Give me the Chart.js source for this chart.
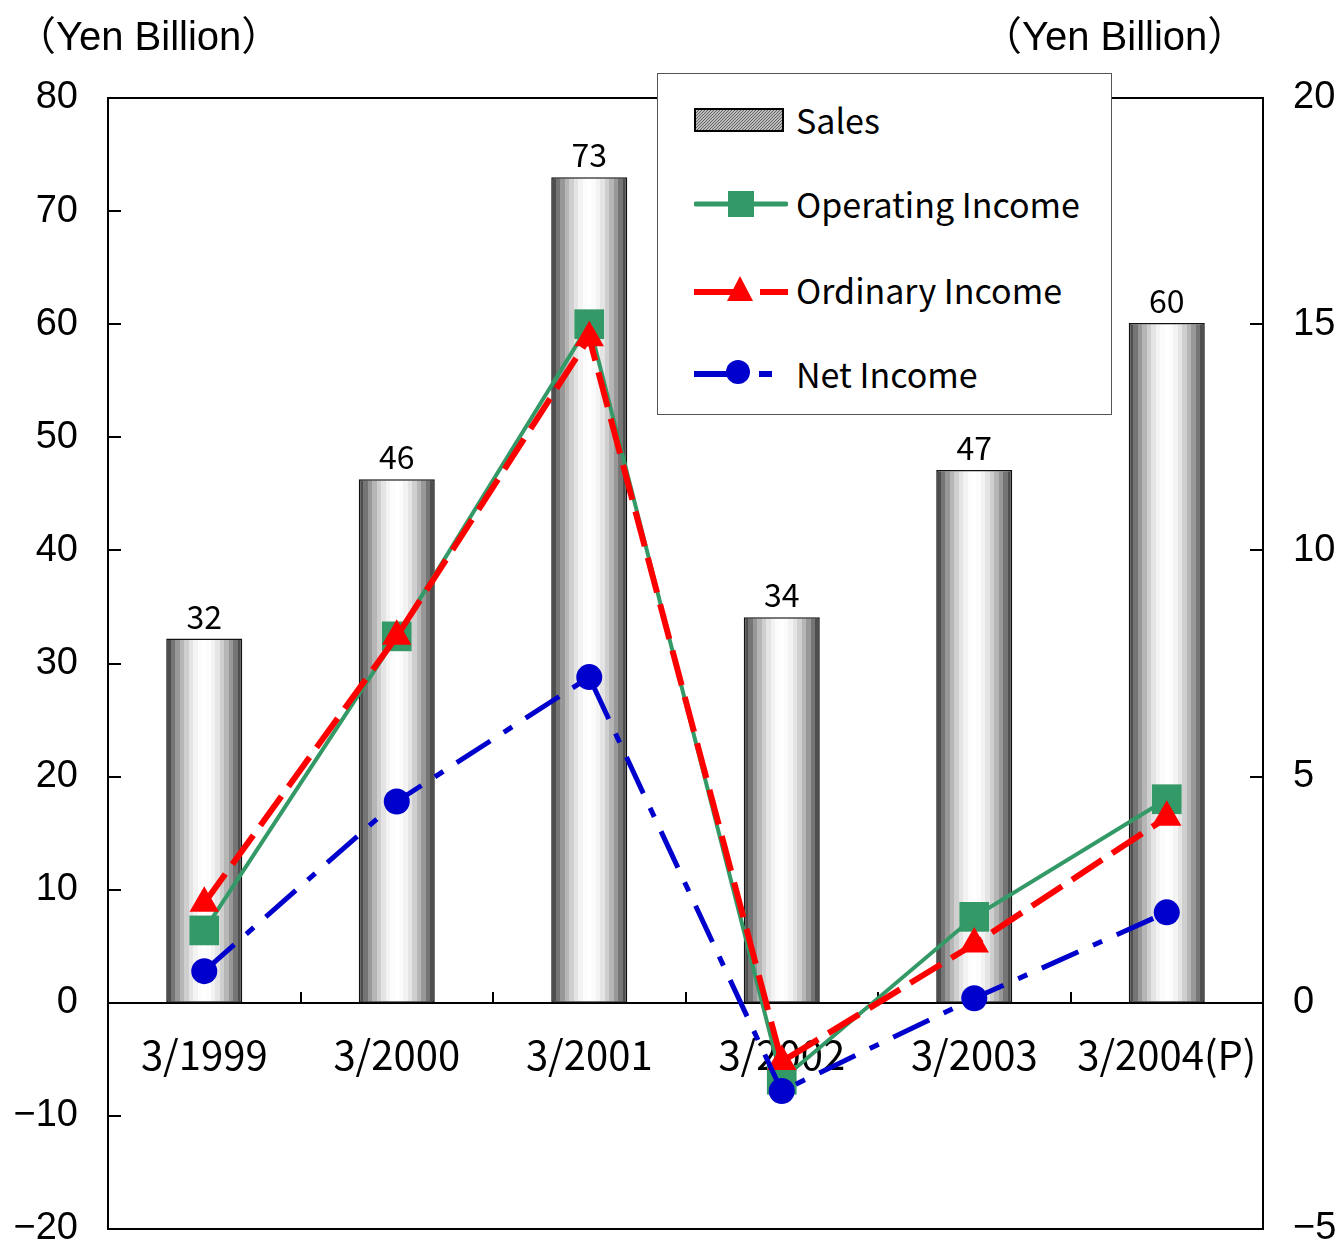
<!DOCTYPE html>
<html><head><meta charset="utf-8">
<script src="https://cdn.jsdelivr.net/npm/chart.js@4.4.1/dist/chart.umd.min.js"></script>
<style>
html,body{margin:0;padding:0;background:#fff;overflow:hidden;}
#wrap{position:relative;width:1338px;height:1245px;overflow:hidden;}
canvas{position:absolute;left:0;top:0;}
.unit{position:absolute;top:13px;font-family:"Liberation Sans","Noto Sans CJK JP",sans-serif;font-size:40px;color:#000;line-height:46px;white-space:nowrap;}
#legend{position:absolute;left:657px;top:73px;width:455px;height:342px;border:1.5px solid #555;background:#fff;box-sizing:border-box;}
.row{position:absolute;left:36px;height:40px;display:flex;align-items:center;}
.row svg{width:94px;height:40px;flex:none;}
.row span{font-family:"Noto Sans CJK JP",sans-serif;font-size:34px;margin-left:8px;color:#000;white-space:nowrap;line-height:40px;}
</style>
</head><body>
<div id="wrap">
<canvas id="c" width="1338" height="1250"></canvas>
<div class="unit" style="left:16px;">（Yen Billion）</div>
<div class="unit" style="left:982px;">（Yen Billion）</div>
<div id="legend">
  <div class="row" style="top:26px;">
    <svg viewBox="0 0 94 40"><defs><pattern id="h" width="3" height="3" patternUnits="userSpaceOnUse"><rect width="3" height="3" fill="#bbb"/><path d="M0,3 L3,0" stroke="#666" stroke-width="1"/></pattern></defs>
    <rect x="1" y="9" width="88" height="22" fill="url(#h)" stroke="#000" stroke-width="2"/></svg>
    <span>Sales</span>
  </div>
  <div class="row" style="top:110px;">
    <svg viewBox="0 0 94 40"><line x1="2" y1="20" x2="92" y2="20" stroke="#339966" stroke-width="5" stroke-linecap="round"/><rect x="34" y="7" width="26" height="26" fill="#339966"/></svg>
    <span>Operating Income</span>
  </div>
  <div class="row" style="top:196px;">
    <svg viewBox="0 0 94 40"><line x1="0" y1="22" x2="40" y2="22" stroke="#ff0000" stroke-width="6"/><line x1="66" y1="22" x2="94" y2="22" stroke="#ff0000" stroke-width="6"/><polygon points="33,31 59,31 46,6" fill="#ff0000"/></svg>
    <span>Ordinary Income</span>
  </div>
  <div class="row" style="top:280px;">
    <svg viewBox="0 0 94 40"><line x1="0" y1="20" x2="38" y2="20" stroke="#0000cc" stroke-width="6"/><line x1="65" y1="20" x2="78" y2="20" stroke="#0000cc" stroke-width="6"/><circle cx="44" cy="18" r="12" fill="#0000cc"/></svg>
    <span>Net Income</span>
  </div>
</div>
</div>
<script>
// ---- data ----
const categories = ['3/1999', '3/2000', '3/2001', '3/2002', '3/2003', '3/2004(P)'];
const sales = [32.2, 46.3, 73.0, 34.1, 47.1, 60.1];
const operatingIncome = [1.6, 8.1, 15.0, -1.7, 1.9, 4.5];
const ordinaryIncome = [2.2, 8.1, 14.7, -1.3, 1.3, 4.1];
const netIncome = [0.7, 4.45, 7.2, -1.95, 0.1, 2.0];
const leftTicks = {min: -20, max: 80, step: 10};
const rightTicks = {min: -5, max: 20, step: 5};

const BAR_FRACTION = 0.395;
const minus = v => String(v).replace('-', '\u2212');
const noPad = s => { s.paddingTop = 0; s.paddingBottom = 0; s.paddingLeft = 0; s.paddingRight = 0; };

function barGradient(ctx) {
  const chart = ctx.chart;
  const xs = chart.scales.x;
  if (!xs || ctx.type !== 'data' || !isFinite(xs.getPixelForValue(ctx.dataIndex))) return '#999';
  const cx = xs.getPixelForValue(ctx.dataIndex);
  const w = xs.width / categories.length * BAR_FRACTION;
  const g = chart.ctx.createLinearGradient(cx - w / 2, 0, cx + w / 2, 0);
  const N = 17;
  for (let i = 0; i < N; i++) {
    const t = (i + 0.5) / N;
    const k = Math.pow(Math.cos((t - 0.5) * Math.PI), 0.9);
    const v = Math.round(55 + (255 - 55) * k);
    const col = `rgb(${v},${v},${v})`;
    g.addColorStop(i / N, col);
    g.addColorStop((i + 1) / N - 0.0001, col);
  }
  return g;
}

const framePlugin = {
  id: 'frame',
  beforeDatasetsDraw(chart) {
    const {ctx, chartArea: a, scales} = chart;
    ctx.save();
    ctx.strokeStyle = '#000';
    ctx.lineWidth = 2;
    ctx.beginPath();
    scales.y.ticks.forEach(t => {
      const py = Math.round(scales.y.getPixelForValue(t.value));
      ctx.moveTo(a.left, py); ctx.lineTo(a.left + 13, py);
    });
    scales.y1.ticks.forEach(t => {
      const py = Math.round(scales.y1.getPixelForValue(t.value));
      ctx.moveTo(a.right, py); ctx.lineTo(a.right - 13, py);
    });
    const y0 = Math.round(scales.y.getPixelForValue(0));
    for (let i = 1; i < categories.length; i++) {
      const px = Math.round((scales.x.getPixelForValue(i - 1) + scales.x.getPixelForValue(i)) / 2);
      ctx.moveTo(px, y0); ctx.lineTo(px, y0 - 11);
    }
    ctx.stroke();
    ctx.strokeRect(a.left, a.top, a.right - a.left, a.bottom - a.top);
    ctx.restore();
  },
  afterDatasetsDraw(chart) {
    const {ctx} = chart;
    const meta = chart.getDatasetMeta(0);
    ctx.save();
    ctx.fillStyle = '#000';
    ctx.font = '32px "Noto Sans CJK JP", sans-serif';
    ctx.textAlign = 'center';
    ctx.textBaseline = 'alphabetic';
    meta.data.forEach((el, i) => {
      ctx.fillText(String(Math.round(sales[i])), el.x, el.y - 10);
    });
    ctx.restore();
  }
};

new Chart(document.getElementById('c'), {
  data: {
    labels: categories,
    datasets: [
      {type: 'bar', label: 'Sales', data: sales, yAxisID: 'y', order: 4,
       backgroundColor: barGradient, borderColor: '#111', borderWidth: 1.5, borderSkipped: false,
       barPercentage: BAR_FRACTION, categoryPercentage: 1},
      {type: 'line', label: 'Operating Income', data: operatingIncome, yAxisID: 'y1', order: 3,
       borderColor: '#339966', backgroundColor: '#339966', borderWidth: 4, tension: 0,
       pointStyle: 'rect', pointRadius: 21, pointBorderWidth: 0, pointBackgroundColor: '#339966'},
      {type: 'line', label: 'Ordinary Income', data: ordinaryIncome, yAxisID: 'y1', order: 2,
       borderColor: '#ff0000', backgroundColor: '#ff0000', borderWidth: 6, borderDash: [36, 12], tension: 0,
       pointStyle: 'triangle', pointRadius: 17, pointBorderWidth: 0, pointBackgroundColor: '#ff0000'},
      {type: 'line', label: 'Net Income', data: netIncome, yAxisID: 'y1', order: 1,
       borderColor: '#0000cc', backgroundColor: '#0000cc', borderWidth: 5, borderDash: [40, 16, 10, 16], tension: 0,
       pointStyle: 'circle', pointRadius: 13, pointBorderWidth: 0, pointBackgroundColor: '#0000cc'}
    ]
  },
  options: {
    responsive: false,
    animation: false,
    events: [],
    layout: {padding: {top: 98, bottom: 18, left: 0, right: 0}},
    plugins: {legend: {display: false}, tooltip: {enabled: false}},
    scales: {
      x: {
        type: 'category', position: {y: 0}, offset: true,
        grid: {display: false, drawTicks: false},
        border: {display: true, color: '#000', width: 2},
        ticks: {color: '#000', font: {family: '"Noto Sans CJK JP", sans-serif', size: 40}, padding: 28, maxRotation: 0, autoSkip: false},
        afterFit: s => { s.height = 0; noPad(s); }
      },
      y: {
        position: 'left', min: leftTicks.min, max: leftTicks.max,
        grid: {display: false, drawTicks: false}, border: {display: false},
        ticks: {stepSize: leftTicks.step, color: '#000', padding: 30, font: {family: '"Liberation Sans", sans-serif', size: 38, lineHeight: 0.8}, callback: minus},
        afterFit: s => { s.width = 108; noPad(s); }
      },
      y1: {
        position: 'right', min: rightTicks.min, max: rightTicks.max,
        grid: {display: false, drawTicks: false}, border: {display: false},
        ticks: {stepSize: rightTicks.step, color: '#000', padding: 30, font: {family: '"Liberation Sans", sans-serif', size: 38, lineHeight: 0.8}, callback: minus},
        afterFit: s => { s.width = 75; noPad(s); }
      }
    }
  },
  plugins: [framePlugin]
});
</script>
</body></html>
